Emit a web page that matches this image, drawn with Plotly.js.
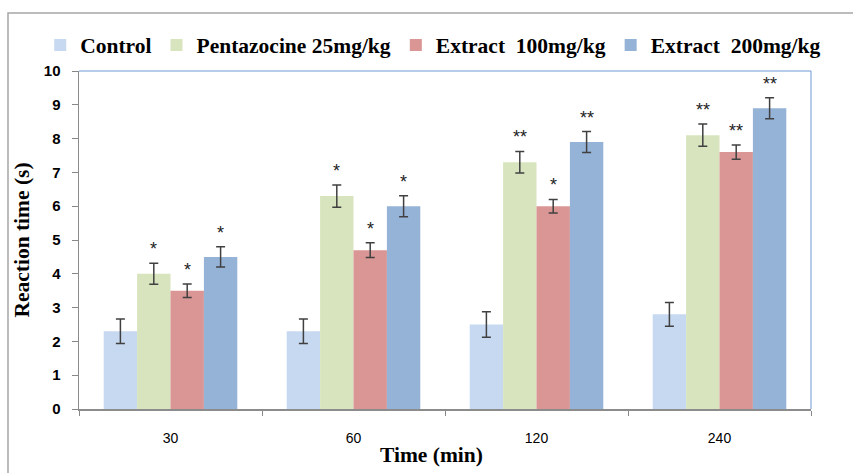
<!DOCTYPE html>
<html>
<head>
<meta charset="utf-8">
<script src="https://cdn.plot.ly/plotly-3.0.1.min.js"></script>
<style>html,body{margin:0;padding:0;background:#fff;}#chart{width:853px;height:473px;}</style>
</head>
<body>
<div id="chart"></div>
<script>
// Data
const categories = ['30', '60', '120', '240'];
const seriesNames = ['Control', 'Pentazocine 25mg/kg', 'Extract  100mg/kg', 'Extract  200mg/kg'];
const control      = [2.3, 2.3, 2.5, 2.8];
const pentazocine  = [4.0, 6.3, 7.3, 8.1];
const extract100   = [3.5, 4.7, 6.0, 7.6];
const extract200   = [4.5, 6.0, 7.9, 8.9];
const controlErr     = [0.36, 0.36, 0.38, 0.35];
const pentazocineErr = [0.31, 0.33, 0.32, 0.33];
const extract100Err  = [0.2, 0.22, 0.2, 0.21];
const extract200Err  = [0.3, 0.31, 0.31, 0.31];
const pentazocineSig = ['*', '*', '**', '**'];
const extract100Sig  = ['*', '*', '*', '**'];
const extract200Sig  = ['*', '*', '**', '**'];
const yTicks = [0,1,2,3,4,5,6,7,8,9,10];
const xTitle = 'Time (min)';
const yTitle = 'Reaction time (s)';

const colors = ['#C6D9F1', '#D7E4BD', '#D99694', '#95B3D7'];
const values = [control, pentazocine, extract100, extract200];
const errs = [controlErr, pentazocineErr, extract100Err, extract200Err];
const sigs = [null, pentazocineSig, extract100Sig, extract200Sig];

const bargap = 0.27;
const traces = values.map((v, i) => ({
  type: 'bar',
  name: seriesNames[i],
  x: categories,
  y: v,
  marker: {color: colors[i], line: {width: 0}},
  error_y: {type: 'data', array: errs[i], visible: true, color: '#404040', thickness: 1.5, width: 4.5}
}));

const barW = (1 - bargap) / 4;
const annotations = [];
sigs.forEach((s, i) => {
  if (!s) return;
  s.forEach((txt, j) => {
    annotations.push({
      x: j + (i - 1.5) * barW,
      y: values[i][j] + errs[i][j],
      xref: 'x', yref: 'y',
      text: txt, showarrow: false,
      yanchor: 'bottom', yshift: 2,
      font: {family: 'Liberation Sans, Arial, sans-serif', size: 18, color: '#222'}
    });
  });
});
annotations.push({
  x: 0.481, y: -0.137, xref: 'paper', yref: 'paper',
  xanchor: 'center', yanchor: 'middle', showarrow: false,
  text: '<b>' + xTitle + '</b>',
  font: {family: 'Liberation Serif, Times New Roman, serif', size: 21.5, color: '#000'}
});

const layout = {
  width: 853, height: 473,
  margin: {l: 79, r: 42, t: 71, b: 64},
  paper_bgcolor: '#fff', plot_bgcolor: '#fff',
  barmode: 'group', bargap: bargap, bargroupgap: 0,
  showlegend: true,
  legend: {
    orientation: 'h', x: -0.053, xanchor: 'left', y: 1.077, yanchor: 'middle',
    font: {family: 'Liberation Serif, Times New Roman, serif', size: 21.5, color: '#000', weight: 'bold'},
    itemclick: false, traceorder: 'normal', itemwidth: 30
  },
  xaxis: {
    type: 'category',
    range: [-0.5, 3.5],
    tickson: 'boundaries', ticks: 'outside', ticklen: 5, tickcolor: '#888', tickwidth: 1,
    showline: true, linecolor: '#8C8C8C', linewidth: 1.5,
    showgrid: false, zeroline: false,
    tickfont: {family: 'Liberation Sans, Arial, sans-serif', size: 14, color: '#000'},
    ticklabelstandoff: 16
  },
  yaxis: {
    range: [0, 10], tickvals: yTicks,
    ticks: 'outside', ticklen: 6, tickcolor: '#888', tickwidth: 1,
    showline: true, linecolor: '#8C8C8C', linewidth: 1.5,
    showgrid: false, zeroline: false,
    tickfont: {family: 'Liberation Sans, Arial, sans-serif', size: 15, color: '#000', weight: 'bold'},
    ticklabelstandoff: 8,
    title: {text: '<b>' + yTitle + '</b>', font: {family: 'Liberation Serif, Times New Roman, serif', size: 21.5, color: '#000'}, standoff: 8}
  },
  shapes: [
    {type: 'path', xref: 'paper', yref: 'paper', path: 'M0,1 L1,1 L1,0',
     line: {color: '#6F9BD6', width: 1}, layer: 'below'},
    {type: 'rect', xref: 'paper', yref: 'paper', x0: -0.097, x1: 1.1, y0: -0.25, y1: 1.1716,
     line: {color: '#A6A6A6', width: 1.5}, layer: 'below'}
  ],
  annotations: annotations
};

Plotly.newPlot('chart', traces, layout, {displayModeBar: false, staticPlot: true});
</script>
</body>
</html>
